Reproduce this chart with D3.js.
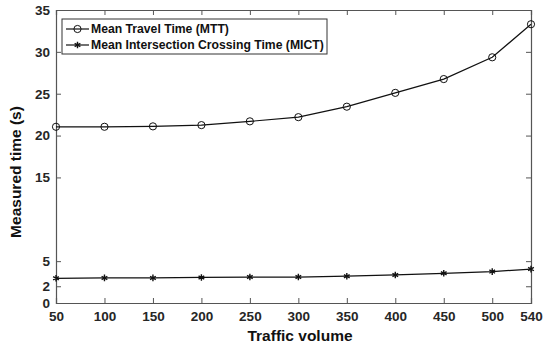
<!DOCTYPE html>
<html>
<head>
<meta charset="utf-8">
<script src="https://cdn.jsdelivr.net/npm/d3@7"></script>
<style>
  body { margin: 0; background: #fff; }
  text { font-family: "Liberation Sans", Arial, sans-serif; font-weight: bold; }
</style>
</head>
<body>
<svg id="chart" width="550" height="347"></svg>
<script>
// traffic volume on x
const volumes = [50, 100, 150, 200, 250, 300, 350, 400, 450, 500, 540];
const mtt = [21.05, 21.05, 21.1, 21.25, 21.7, 22.2, 23.45, 25.1, 26.75, 29.35, 33.3];
const mict = [2.95, 3.0, 3.0, 3.05, 3.1, 3.1, 3.2, 3.35, 3.55, 3.75, 4.05];
const xTicks = [50, 100, 150, 200, 250, 300, 350, 400, 450, 500, 540];
const yTicks = [0, 2, 5, 15, 20, 25, 30, 35];

let svg = d3.select("#chart");
let margin = {top: 10, right: 19, bottom: 44, left: 56},
    width = +svg.attr("width") - margin.left - margin.right,
    height = +svg.attr("height") - margin.top - margin.bottom,
    g = svg.append("g").attr("transform", "translate(" + margin.left + "," + margin.top + ")");

let x = d3.scaleLinear().domain([50, 540]).range([0, width]);
let y = d3.scaleLinear().domain([0, 35]).range([height, 0]);

const axisColor = "#555";
const tickLen = 5;

// bottom + left with labels, ticks pointing inward
let xAxis = g.append("g")
    .attr("transform", "translate(0," + height + ")")
    .call(d3.axisBottom(x).tickValues(xTicks).tickSize(-tickLen).tickPadding(8).tickFormat(d3.format("d")));
let yAxis = g.append("g")
    .call(d3.axisLeft(y).tickValues(yTicks).tickSize(-tickLen).tickPadding(6).tickFormat(d3.format("d")));
// top + right, ticks only
let xTop = g.append("g")
    .call(d3.axisTop(x).tickValues(xTicks).tickSize(-tickLen).tickFormat(""));
let yRight = g.append("g")
    .attr("transform", "translate(" + width + ",0)")
    .call(d3.axisRight(y).tickValues(yTicks).tickSize(-tickLen).tickFormat(""));

[xAxis, yAxis, xTop, yRight].forEach(a => {
    a.select(".domain").attr("stroke", axisColor).attr("stroke-width", 1.2);
    a.selectAll(".tick line").attr("stroke", axisColor);
    a.selectAll(".tick text").attr("fill", "#262626").style("font-size", "13.5px").style("font-weight", "bold");
});
// no inner tick at the corners
yAxis.selectAll(".tick").filter(d => d === 0 || d === 35).select("line").remove();
yRight.selectAll(".tick").filter(d => d === 0 || d === 35).select("line").remove();
xAxis.selectAll(".tick").filter(d => d === 50 || d === 540).select("line").remove();
xTop.selectAll(".tick").filter(d => d === 50 || d === 540).select("line").remove();

let line = d3.line()
    .x((d, i) => x(volumes[i]))
    .y(d => y(d));

g.append("path").datum(mtt)
    .attr("fill", "none").attr("stroke", "#111").attr("stroke-width", 1.2)
    .attr("d", line);
g.append("path").datum(mict)
    .attr("fill", "none").attr("stroke", "#111").attr("stroke-width", 1.2)
    .attr("d", line);

let star = d3.symbol().type(d3.symbolAsterisk).size(30);
function drawCircle(sel, cx, cy) {
    sel.append("circle").attr("cx", cx).attr("cy", cy).attr("r", 3.6)
        .attr("fill", "none").attr("stroke", "#111").attr("stroke-width", 1);
}
function drawStar(sel, cx, cy) {
    sel.append("path").attr("d", star).attr("transform", "translate(" + cx + "," + cy + ")")
        .attr("fill", "none").attr("stroke", "#111").attr("stroke-width", 1.4);
}

mtt.forEach((v, i) => drawCircle(g, x(volumes[i]), y(v)));
mict.forEach((v, i) => drawStar(g, x(volumes[i]), y(v)));

// legend
let legend = svg.append("g").attr("transform", "translate(62,19)");
legend.append("rect").attr("width", 265).attr("height", 35)
    .attr("fill", "#fff").attr("stroke", "#333").attr("stroke-width", 1);
const legendItems = [
    {label: "Mean Travel Time (MTT)", marker: drawCircle},
    {label: "Mean Intersection Crossing Time (MICT)", marker: drawStar}
];
legendItems.forEach((item, i) => {
    let row = legend.append("g").attr("transform", "translate(0," + (10 + i * 16) + ")");
    row.append("line").attr("x1", 4).attr("x2", 27).attr("stroke", "#111").attr("stroke-width", 1.2);
    item.marker(row, 15.5, 0);
    row.append("text").attr("x", 29).attr("dy", "0.36em")
        .style("font-size", "12.2px").attr("fill", "#111").text(item.label);
});

// axis titles
svg.append("text")
    .attr("x", 300).attr("y", 341)
    .attr("text-anchor", "middle").style("font-size", "15.5px").attr("fill", "#111")
    .text("Traffic volume");
svg.append("text")
    .attr("transform", "translate(21,172) rotate(-90)")
    .attr("text-anchor", "middle").style("font-size", "15.5px").attr("fill", "#111")
    .text("Measured time (s)");
</script>
</body>
</html>
